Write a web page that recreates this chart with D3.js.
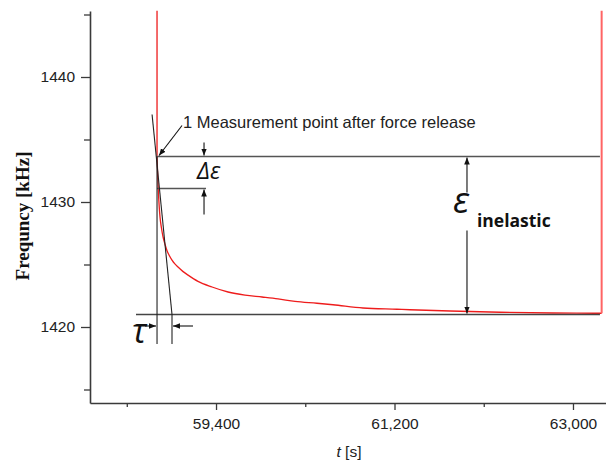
<!DOCTYPE html>
<html>
<head>
<meta charset="utf-8">
<script src="https://cdn.jsdelivr.net/npm/d3@7"></script>
<style>
  body { margin: 0; background: #fff; }
  svg { display: block; }
</style>
</head>
<body>
<script>
// Data (time in s, frequency in kHz)
var timeS = [58805, 58812, 58820, 58835, 58850, 58866, 58886, 58906, 58930, 58956, 58985, 59017, 59065, 59118,
             59218, 59360, 59521, 59692, 59864, 60025, 60197, 60418, 60580, 60882, 61225, 61356, 61760,
             62264, 62800, 63222, 63289];
var freqKHz = [1433.7, 1432.0, 1430.6, 1428.8, 1427.9, 1427.2, 1426.6, 1426.1, 1425.7, 1425.35, 1425.05, 1424.8,
               1424.45, 1424.15, 1423.65, 1423.2, 1422.8, 1422.55, 1422.4, 1422.25, 1422.05, 1421.9, 1421.78,
               1421.52, 1421.42, 1421.38, 1421.28, 1421.18, 1421.12, 1421.1, 1421.1];
// vertical jumps at the start and end of the record
var startJumpT = [58805, 58805];
var startJumpF = [1445.3, 1433.7];
var endJumpT = [63289, 63289];
var endJumpF = [1421.1, 1445.3];

var xMajor = [59400, 61200, 63000];
var xMinor = [58500, 60300, 62100];
var yMajor = [1420, 1430, 1440];
var yMinor = [1415, 1425, 1435, 1445];

// annotation levels (data coords)
var releaseT = 58805;       // force release
var tauEndT = 58956;        // tangent crosses final level
var tangentT = [58755, 58956];
var tangentF = [1437.0, 1421.0];
var startLevelF = 1433.64;
var deltaLevelF = 1431.08;
var finalLevelF = 1421.0;
var tickBottomF = 1418.65;
var finalLineStartT = 58593;
var levelLineEndT = 63272;
var deltaLineEndT = 59299;
var deltaArrowT = 59279;
var epsArrowT = 61931;

var width = 606;
var height = 465;
var svg = d3.select("body").append("svg")
    .attr("width", width)
    .attr("height", height);

var x = d3.scaleLinear().domain([58129, 63333]).range([90, 606]);
var y = d3.scaleLinear().domain([1413.92, 1445.28]).range([403, 11]);

// arrow heads
var defs = svg.append("defs");
defs.append("marker")
    .attr("id", "arrow")
    .attr("viewBox", "0 0 10 10")
    .attr("refX", 10).attr("refY", 5)
    .attr("markerWidth", 7).attr("markerHeight", 7)
    .attr("markerUnits", "userSpaceOnUse")
    .attr("orient", "auto")
    .append("path")
    .attr("d", "M0,1 L10,5 L0,9 Z")
    .attr("fill", "#111");

var axisColor = "#3a3a3a";
var tickFont = "'Liberation Sans', Arial, sans-serif";

// y axis
svg.append("g").attr("transform", "translate(90,0)")
    .call(d3.axisLeft(y).tickValues(yMajor).tickSize(9).tickSizeOuter(0).tickPadding(6)
        .tickFormat(d3.format("d")));
svg.append("g").attr("transform", "translate(90,0)")
    .call(d3.axisLeft(y).tickValues(yMinor).tickSize(6).tickFormat(""))
    .select(".domain").remove();

// x axis
svg.append("g").attr("transform", "translate(0,403)")
    .call(d3.axisBottom(x).tickValues(xMajor).tickSize(7).tickSizeOuter(0).tickPadding(8)
        .tickFormat(d3.format(",")));
svg.append("g").attr("transform", "translate(0,403)")
    .call(d3.axisBottom(x).tickValues(xMinor).tickSize(4).tickFormat(""))
    .select(".domain").remove();

svg.selectAll(".domain").attr("stroke", axisColor).attr("stroke-width", 1.6);
svg.selectAll(".tick line").attr("stroke", axisColor).attr("stroke-width", 1.3);
svg.selectAll(".tick text")
    .attr("fill", "#222")
    .style("font-family", tickFont)
    .style("font-size", "15.5px");

// axis titles
svg.append("text")
    .attr("transform", "translate(29,216) rotate(-90)")
    .attr("text-anchor", "middle")
    .style("font-family", "'Liberation Serif', 'Times New Roman', serif")
    .style("font-weight", "bold")
    .style("font-size", "19px")
    .attr("fill", "#111")
    .text("Frequncy [kHz]");

var xt = svg.append("text")
    .attr("x", 349).attr("y", 457)
    .attr("text-anchor", "middle")
    .style("font-family", tickFont)
    .style("font-size", "15.5px")
    .attr("fill", "#222");
xt.append("tspan").style("font-style", "italic").text("t");
xt.append("tspan").text(" [s]");

// measured signal
var line = d3.line()
    .x(function (d) { return x(d[0]); })
    .y(function (d) { return y(d[1]); });

svg.append("path")
    .datum(d3.zip(timeS, freqKHz))
    .attr("d", line.curve(d3.curveMonotoneX))
    .attr("fill", "none")
    .attr("stroke", "#ee1c1c")
    .attr("stroke-width", 1.3);

line.curve(d3.curveLinear);
svg.append("path")
    .datum(d3.zip(startJumpT, startJumpF))
    .attr("d", line)
    .attr("fill", "none")
    .attr("stroke", "#ee1c1c")
    .attr("stroke-width", 1.3);

svg.append("path")
    .datum(d3.zip(endJumpT, endJumpF))
    .attr("d", line)
    .attr("fill", "none")
    .attr("stroke", "#ff6464")
    .attr("stroke-width", 2);

// helper for annotation lines
function seg(t1, f1, t2, f2, color, w, arrow) {
    var p = svg.append("line")
        .attr("x1", x(t1)).attr("y1", y(f1))
        .attr("x2", x(t2)).attr("y2", y(f2))
        .attr("stroke", color)
        .attr("stroke-width", w);
    if (arrow) p.attr("marker-end", "url(#arrow)");
    return p;
}

// level lines
seg(releaseT, startLevelF, levelLineEndT, startLevelF, "#555", 1.6);
seg(finalLineStartT, finalLevelF, levelLineEndT, finalLevelF, "#444", 1.4);
seg(releaseT, deltaLevelF, deltaLineEndT, deltaLevelF, "#555", 1.6);

// tangent and tau lines
seg(tangentT[0], tangentF[0], tangentT[1], tangentF[1], "#222", 1.1);
seg(releaseT, startLevelF, releaseT, tickBottomF, "#222", 1.1);
seg(tauEndT, finalLevelF, tauEndT, tickBottomF, "#222", 1.1);

// delta epsilon arrows
var dy = 1 / 12.5; // one pixel in kHz
seg(deltaArrowT, startLevelF + 14 * dy, deltaArrowT, startLevelF + 1 * dy, "#111", 1.1, true);
seg(deltaArrowT, deltaLevelF - 26 * dy, deltaArrowT, deltaLevelF - 1 * dy, "#111", 1.1, true);

// epsilon inelastic arrows
seg(epsArrowT, startLevelF - 36 * dy, epsArrowT, startLevelF - 1 * dy, "#111", 1.1, true);
seg(epsArrowT, finalLevelF + 84 * dy, epsArrowT, finalLevelF + 1 * dy, "#111", 1.1, true);

// tau arrows
var tauF = finalLevelF - 11.5 * dy;
var dx = 1800 / 178.5; // one pixel in s
seg(releaseT - 12 * dx, tauF, releaseT - 1 * dx, tauF, "#111", 1.1, true);
seg(tauEndT + 21 * dx, tauF, tauEndT + 1 * dx, tauF, "#111", 1.1, true);

// measurement point pointer
seg(releaseT + 25 * dx, startLevelF + 31 * dy, releaseT + 2 * dx, startLevelF + 1 * dy, "#111", 1.1, true);

// labels
svg.append("text")
    .attr("x", x(releaseT) + 26).attr("y", y(startLevelF) - 29)
    .style("font-family", tickFont)
    .style("font-size", "16.5px")
    .attr("fill", "#222")
    .text("1 Measurement point after force release");

svg.append("text")
    .attr("x", x(deltaArrowT) - 7).attr("y", y(startLevelF) + 22)
    .style("font-family", "'Open Sans', 'DejaVu Sans', sans-serif")
    .style("font-style", "italic")
    .style("font-size", "23px")
    .attr("fill", "#111")
    .text("\u0394\u03b5");

svg.append("text")
    .attr("x", x(epsArrowT) - 14).attr("y", y(startLevelF) + 56)
    .style("font-family", "'Open Sans', 'DejaVu Sans', sans-serif")
    .style("font-style", "italic")
    .style("font-size", "36px")
    .attr("fill", "#111")
    .text("\u03b5");

svg.append("text")
    .attr("x", x(epsArrowT) + 10).attr("y", y(startLevelF) + 70)
    .style("font-family", "'Open Sans', sans-serif")
    .style("font-weight", "bold")
    .style("font-size", "17.5px")
    .attr("fill", "#111")
    .text("inelastic");

svg.append("text")
    .attr("x", x(releaseT) - 25).attr("y", y(finalLevelF) + 28)
    .style("font-family", "'Open Sans', 'DejaVu Sans', sans-serif")
    .style("font-style", "italic")
    .style("font-size", "34px")
    .attr("fill", "#111")
    .text("\u03c4");
</script>
</body>
</html>
